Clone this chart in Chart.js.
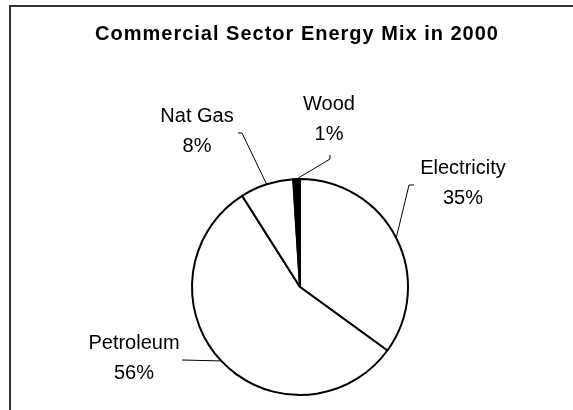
<!DOCTYPE html>
<html>
<head>
<meta charset="utf-8">
<script src="https://cdn.jsdelivr.net/npm/chart.js@4"></script>
<style>
  html, body { margin: 0; padding: 0; background: #fff; }
  #wrap { width: 573px; height: 410px; position: relative; }
</style>
</head>
<body>
<div id="wrap"><canvas id="pieChart" width="573" height="410"></canvas></div>
<script>
// data, clockwise from 12 o'clock
const categories = ['Electricity', 'Petroleum', 'Nat Gas', 'Wood'];
const shares = [35, 56, 8, 1];
const sliceColors = ['#ffffff', '#ffffff', '#ffffff', '#000000'];
const chartTitle = 'Commercial Sector Energy Mix in 2000';

// hand placed labels (first line centre) and leader start / elbow, like the original
const labelAt = [[463, 168], [134, 343], [197, 116], [329, 104]];
const leaderStart = [[414, 185], [182, 360], [238, 133], [330, 155]];
const leaderElbow = [[409, 185], [182, 360], [242, 133], [330, 159]];

const decorPlugin = {
    id: 'decor',
    beforeDraw(chart) {
        const ctx = chart.ctx;
        ctx.save();
        ctx.fillStyle = '#fff';
        ctx.fillRect(0, 0, chart.width, chart.height);
        // frame (only top and left edges are visible)
        ctx.strokeStyle = '#333';
        ctx.lineWidth = 2;
        ctx.beginPath();
        ctx.moveTo(10, chart.height + 2);
        ctx.lineTo(10, 6);
        ctx.lineTo(chart.width + 2, 6);
        ctx.stroke();
        // title
        ctx.fillStyle = '#000';
        ctx.font = 'bold 20px "Liberation Sans", Arial, sans-serif';
        ctx.letterSpacing = '1px';
        ctx.textAlign = 'center';
        ctx.textBaseline = 'middle';
        ctx.fillText(chartTitle, 297, 34);
        ctx.restore();
    },
    afterDatasetsDraw(chart) {
        const ctx = chart.ctx;
        const arcs = chart.getDatasetMeta(0).data;
        ctx.save();
        ctx.font = '20px "Liberation Sans", Arial, sans-serif';
        ctx.fillStyle = '#000';
        ctx.textAlign = 'center';
        ctx.textBaseline = 'middle';
        arcs.forEach((arc, i) => {
            const mid = (arc.startAngle + arc.endAngle) / 2;
            const ex = arc.x + Math.cos(mid) * arc.outerRadius;
            const ey = arc.y + Math.sin(mid) * arc.outerRadius;
            ctx.strokeStyle = '#000';
            ctx.lineWidth = 1;
            ctx.beginPath();
            ctx.moveTo(leaderStart[i][0], leaderStart[i][1]);
            ctx.lineTo(leaderElbow[i][0], leaderElbow[i][1]);
            ctx.lineTo(ex, ey);
            ctx.stroke();
            ctx.fillText(categories[i], labelAt[i][0], labelAt[i][1]);
            ctx.fillText(shares[i] + '%', labelAt[i][0], labelAt[i][1] + 30);
        });
        ctx.restore();
    }
};

const ctx = document.getElementById('pieChart').getContext('2d');
new Chart(ctx, {
    type: 'pie',
    data: {
        labels: categories,
        datasets: [
            {
                data: shares,
                backgroundColor: sliceColors,
                borderColor: '#000',
                borderWidth: 2,
                hoverOffset: 0
            }
        ]
    },
    options: {
        responsive: false,
        animation: false,
        events: [],
        layout: {
            padding: { left: 191, right: 164, top: 178, bottom: 14 }
        },
        plugins: {
            legend: { display: false },
            title: { display: false },
            tooltip: { enabled: false }
        }
    },
    plugins: [decorPlugin]
});
</script>
</body>
</html>
